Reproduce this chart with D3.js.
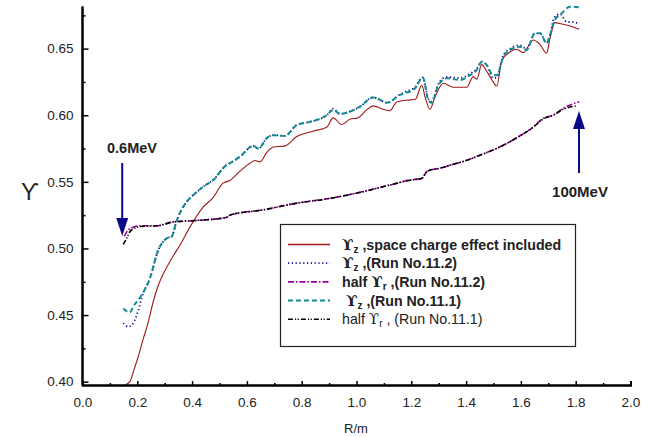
<!DOCTYPE html>
<html>
<head>
<meta charset="utf-8">
<script src="https://cdn.jsdelivr.net/npm/d3@7"></script>
<style>
  body { margin: 0; background: #fff; }
  text { font-family: Arial, "Liberation Sans", sans-serif; }
</style>
</head>
<body>
<div id="plot-container"></div>
<script>

// tick labels
var xTicks = [0.0, 0.2, 0.4, 0.6, 0.8, 1.0, 1.2, 1.4, 1.6, 1.8, 2.0];
var xMinor = [0.1, 0.3, 0.5, 0.7, 0.9, 1.1, 1.3, 1.5, 1.7, 1.9];
var yTicks = [0.40, 0.45, 0.50, 0.55, 0.60, 0.65];
var yMinor = [0.425, 0.475, 0.525, 0.575, 0.625, 0.675];

// series values, [R, upsilon]
var spaceCharge = [[0.155,0.3975],[0.173,0.400],[0.188,0.409],[0.203,0.4185],[0.22,0.431],[0.239,0.444],
  [0.258,0.460],[0.276,0.472],[0.295,0.481],[0.308,0.486],[0.327,0.493],[0.356,0.5026],[0.392,0.516],[0.44,0.531],
  [0.476,0.538],[0.513,0.549],[0.538,0.551],[0.575,0.558],[0.611,0.564],[0.63,0.566],[0.648,0.565],
  [0.672,0.572],[0.695,0.576],[0.739,0.577],[0.782,0.584],[0.841,0.588],[0.891,0.591],[0.915,0.598],
  [0.946,0.593],[0.976,0.597],[1.005,0.598],[1.037,0.604],[1.06,0.607],[1.097,0.6045],[1.122,0.6034],
  [1.147,0.610],[1.195,0.6115],[1.215,0.612],[1.238,0.6225],[1.25,0.614],[1.268,0.6045],[1.287,0.614],
  [1.317,0.624],[1.353,0.621],[1.402,0.621],[1.426,0.629],[1.439,0.627],[1.457,0.638],[1.475,0.633],
  [1.493,0.627],[1.512,0.622],[1.53,0.641],[1.554,0.6465],[1.585,0.6495],[1.609,0.647],[1.645,0.6565],
  [1.67,0.653],[1.694,0.6465],[1.706,0.6577],[1.724,0.6695],[1.749,0.6685],[1.779,0.667],[1.813,0.6645]];

var upsZ112 = [[0.149,0.444],[0.167,0.4413],[0.18,0.4425],[0.204,0.4538],[0.216,0.463],[0.246,0.4776],
  [0.277,0.499],[0.307,0.5076],[0.3255,0.509],[0.344,0.521],[0.38,0.535],[0.404,0.540],[0.441,0.5464],
  [0.477,0.5514],[0.526,0.5627],[0.538,0.564],[0.575,0.569],[0.623,0.577],[0.642,0.575],[0.672,0.5827],
  [0.696,0.585],[0.739,0.5845],[0.782,0.5927],[0.83,0.595],[0.891,0.600],[0.915,0.605],[0.94,0.601],
  [0.976,0.6027],[1.013,0.6065],[1.061,0.6134],[1.086,0.6115],[1.11,0.6094],[1.134,0.6115],[1.147,0.614],
  [1.177,0.6175],[1.213,0.621],[1.242,0.6284],[1.262,0.6125],[1.274,0.6104],[1.299,0.6237],[1.329,0.6287],
  [1.378,0.628],[1.414,0.631],[1.439,0.635],[1.457,0.6402],[1.475,0.6377],[1.499,0.628],[1.512,0.6285],
  [1.536,0.645],[1.56,0.650],[1.597,0.6525],[1.621,0.650],[1.651,0.6615],[1.67,0.6615],[1.694,0.6545],
  [1.706,0.660],[1.721,0.673],[1.743,0.676],[1.768,0.670],[1.786,0.670],[1.813,0.6685]];

var halfR112 = [[0.1525,0.509],[0.167,0.514],[0.185,0.516],[0.21,0.517],[0.271,0.517],[0.331,0.520],
  [0.417,0.521],[0.526,0.5234],[0.538,0.525],[0.66,0.529],[0.782,0.534],[0.903,0.5377],[0.94,0.539],
  [1.025,0.5428],[1.122,0.5476],[1.195,0.5514],[1.238,0.5526],[1.256,0.5576],[1.268,0.5589],[1.3,0.560],
  [1.35,0.563],[1.4,0.566],[1.45,0.570],[1.5,0.574],[1.55,0.579],[1.6,0.585],[1.639,0.5902],
  [1.682,0.5977],[1.718,0.6002],[1.755,0.6052],[1.813,0.6102]];

var upsZ111 = [[0.149,0.455],[0.173,0.452],[0.185,0.4563],[0.216,0.465],[0.246,0.4776],[0.277,0.499],
  [0.307,0.5076],[0.3255,0.509],[0.344,0.521],[0.38,0.535],[0.404,0.540],[0.441,0.5464],[0.477,0.5514],
  [0.526,0.5627],[0.538,0.564],[0.575,0.569],[0.623,0.577],[0.642,0.575],[0.672,0.5827],[0.696,0.585],
  [0.739,0.5845],[0.782,0.5927],[0.83,0.595],[0.891,0.600],[0.915,0.604],[0.94,0.601],[0.976,0.6027],
  [1.013,0.6065],[1.061,0.6134],[1.086,0.6115],[1.11,0.6094],[1.134,0.6115],[1.147,0.614],[1.177,0.6165],
  [1.213,0.620],[1.242,0.6284],[1.262,0.6115],[1.274,0.6094],[1.299,0.6227],[1.329,0.6277],[1.378,0.6265],
  [1.414,0.630],[1.439,0.634],[1.457,0.6402],[1.475,0.6377],[1.499,0.630],[1.512,0.630],[1.536,0.644],
  [1.56,0.649],[1.597,0.6515],[1.621,0.649],[1.651,0.6615],[1.67,0.6615],[1.694,0.654],[1.706,0.660],
  [1.724,0.6715],[1.749,0.6765],[1.779,0.6815],[1.813,0.681]];

var halfR111 = [[0.149,0.503],[0.161,0.5076],[0.173,0.5126],[0.19,0.5151],[0.21,0.5165],[0.271,0.517],
  [0.331,0.5198],[0.417,0.521],[0.526,0.5232],[0.538,0.525],[0.66,0.529],[0.782,0.534],[0.903,0.5375],
  [0.94,0.539],[1.025,0.5426],[1.122,0.5476],[1.195,0.5512],[1.238,0.5526],[1.256,0.5574],[1.268,0.5587],
  [1.3,0.560],[1.35,0.563],[1.4,0.566],[1.45,0.570],[1.5,0.574],[1.55,0.579],[1.6,0.585],[1.639,0.590],
  [1.682,0.5972],[1.718,0.600],[1.755,0.6045],[1.804,0.607]];

var legendLabels = [
  { sym: "z", text: " ,space charge effect included", bold: true, pre: "" },
  { sym: "z", text: " ,(Run No.11.2)", bold: true, pre: "" },
  { sym: "r", text: " ,(Run No.11.2)", bold: true, pre: "half " },
  { sym: "z", text: " ,(Run No.11.1)", bold: true, pre: " " },
  { sym: "r", text: " , (Run No.11.1)", bold: false, pre: "half " }
];

// line styles, in legend order
var styles = [
  { color: "#a01818", width: 1.1, dash: null },
  { color: "#10109a", width: 1.8, dash: "1.2,2.6" },
  { color: "#990099", width: 1.6, dash: "6,2,1.5,2" },
  { color: "#108c8c", width: 2, dash: "5,3" },
  { color: "#000000", width: 1.6, dash: "5,2,1.2,1.5,1.2,2" }
];
var allSeries = [spaceCharge, upsZ112, halfR112, upsZ111, halfR111];

var width = 653, height = 437;

var xScale = d3.scaleLinear().domain([0, 2]).range([82.5, 630.5]);
var yScale = d3.scaleLinear().domain([0.3975, 0.682]).range([385, 6]);

var svg = d3.select("#plot-container")
            .append("svg")
            .attr("width", width)
            .attr("height", height);

// curves (draw order so teal sits over blue and black over purple)
var line = d3.line()
             .curve(d3.curveMonotoneX)
             .x(function(d){ return xScale(d[0]); })
             .y(function(d){ return yScale(d[1]); });

[0, 1, 2, 3, 4].forEach(function(i){
  svg.append("path")
     .datum(allSeries[i])
     .attr("d", line)
     .attr("fill", "none")
     .attr("stroke", styles[i].color)
     .attr("stroke-width", styles[i].width)
     .attr("stroke-dasharray", styles[i].dash);
});

// y axis, ticks point inward
svg.append("g")
   .attr("transform", "translate(" + 82.5 + ",0)")
   .call(d3.axisLeft(yScale).tickValues(yTicks).tickSize(-6).tickPadding(9)
          .tickFormat(d3.format(".2f")));
svg.append("g")
   .attr("transform", "translate(" + 82.5 + ",0)")
   .call(d3.axisLeft(yScale).tickValues(yMinor).tickSize(-3).tickFormat(""));

// x axis
svg.append("g")
   .attr("transform", "translate(0,385)")
   .call(d3.axisBottom(xScale).tickValues(xTicks).tickSize(-4).tickPadding(12)
          .tickFormat(d3.format(".1f")));
svg.append("g")
   .attr("transform", "translate(0,385)")
   .call(d3.axisBottom(xScale).tickValues(xMinor).tickSize(-2).tickFormat(""));

svg.selectAll(".domain").attr("stroke", "#000").attr("stroke-width", 2);
svg.selectAll(".tick line").attr("stroke", "#000").attr("stroke-width", 1.5);
svg.selectAll(".tick text")
   .attr("font-family", "Arial, 'Liberation Sans', sans-serif")
   .attr("font-size", 13.5)
   .attr("fill", "#222");

// remove the domain end caps so axes are plain lines
svg.selectAll(".domain").each(function(){
  var el = d3.select(this);
  var p = el.attr("d");
  el.attr("d", p.replace(/^M[-\d.]+,([-\d.]+)H[-\d.]+V/, "M0,$1V").replace(/V[-\d.]+H[-\d.]+$/, function(s){ return s.split("H")[0]; }));
});

// axis titles
svg.append("text")
   .attr("x", 356)
   .attr("y", 433)
   .attr("text-anchor", "middle")
   .attr("font-size", 13)
   .attr("fill", "#222")
   .text("R/m");

svg.append("text")
   .attr("x", 30)
   .attr("y", 200)
   .attr("text-anchor", "middle")
   .attr("font-family", "'DejaVu Serif', serif")
   .attr("font-size", 23)
   .attr("fill", "#222")
   .text("\u03D2");

// energy arrows
var arrowColor = "#0a0a88";
function arrow(xv, y0, y1, dir){
  var x = xScale(xv);
  svg.append("line")
     .attr("x1", x).attr("x2", x)
     .attr("y1", y0).attr("y2", y1 - dir * 16)
     .attr("stroke", arrowColor)
     .attr("stroke-width", 2);
  svg.append("path")
     .attr("d", "M" + (x - 6) + "," + (y1 - dir * 18) + "L" + (x + 6) + "," + (y1 - dir * 18) + "L" + x + "," + y1 + "Z")
     .attr("fill", arrowColor);
}
arrow(0.145, 163, 236, 1);
arrow(1.812, 173, 111, -1);

svg.append("text")
   .attr("x", 132).attr("y", 153)
   .attr("text-anchor", "middle")
   .attr("font-size", 14.5).attr("font-weight", "bold")
   .attr("fill", "#222")
   .text("0.6MeV");

svg.append("text")
   .attr("x", 580).attr("y", 197)
   .attr("text-anchor", "middle")
   .attr("font-size", 15).attr("font-weight", "bold")
   .attr("fill", "#222")
   .text("100MeV");

// legend
var legend = svg.append("g");
legend.append("rect")
      .attr("x", 280.5).attr("y", 224.5)
      .attr("width", 295).attr("height", 122)
      .attr("fill", "#fff")
      .attr("stroke", "#222")
      .attr("stroke-width", 1.2);

legendLabels.forEach(function(d, i){
  var yy = 244.5 + i * 18.7;
  legend.append("line")
        .attr("x1", 288).attr("x2", 330)
        .attr("y1", yy).attr("y2", yy)
        .attr("stroke", styles[i].color)
        .attr("stroke-width", i == 0 ? 1.6 : styles[i].width)
        .attr("stroke-dasharray", styles[i].dash);
  var t = legend.append("text")
        .attr("x", i == 3 ? 346 : 342)
        .attr("y", yy + 5)
        .attr("font-size", 14.2)
        .attr("font-weight", d.bold ? "bold" : "normal")
        .attr("fill", "#222");
  if (d.pre) t.append("tspan").text(d.pre);
  t.append("tspan")
   .attr("font-family", "'DejaVu Serif', serif")
   .attr("font-size", 15)
   .text("\u03D2");
  t.append("tspan")
   .attr("font-size", 10)
   .attr("dy", 3)
   .text(d.sym);
  t.append("tspan")
   .attr("dy", -3)
   .text(d.text);
});

</script>
</body>
</html>
